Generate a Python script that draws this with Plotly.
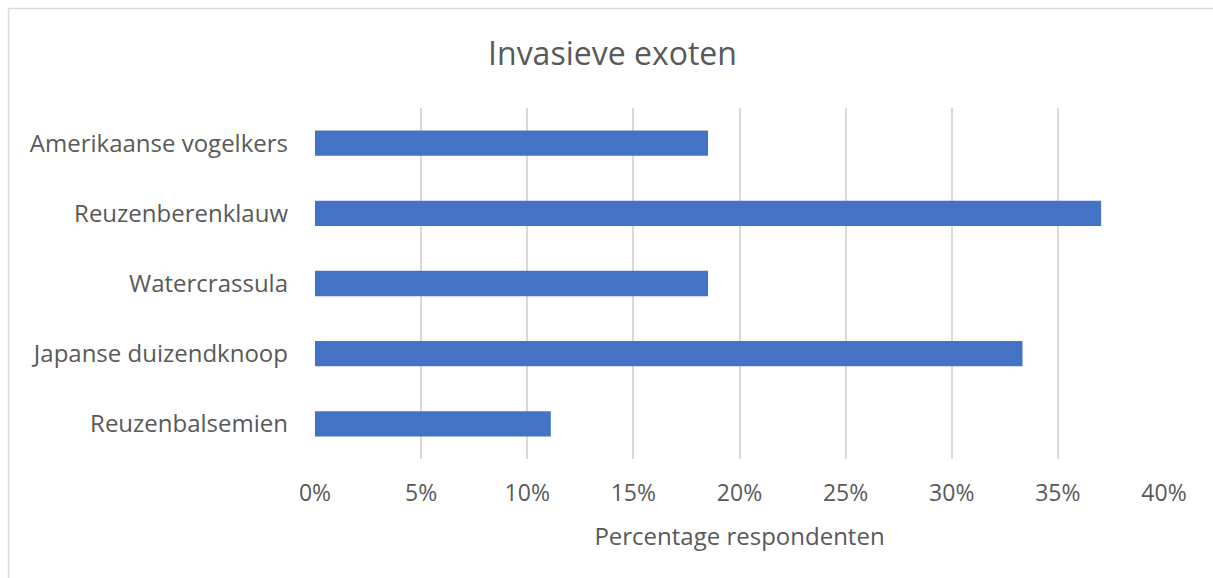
import plotly.graph_objects as go

categories = ["Reuzenbalsemien", "Japanse duizendknoop", "Watercrassula", "Reuzenberenklauw", "Amerikaanse vogelkers"]
values = [3/27, 9/27, 5/27, 10/27, 5/27]
tick_vals = [0, 0.05, 0.10, 0.15, 0.20, 0.25, 0.30, 0.35, 0.40]
tick_text = ["0%", "5%", "10%", "15%", "20%", "25%", "30%", "35%", "40%"]

FONT = "Open Sans"
TXT = "#595959"

fig = go.Figure(go.Bar(
    x=values, y=categories, orientation="h",
    marker=dict(color="#4472C4", line=dict(width=0)),
    width=0.36,
))

W, H = 1213, 578
L, R, T, B = 315, 49, 108, 119
pw = W - L - R
ph = H - T - B

fig.update_layout(
    width=W, height=H,
    margin=dict(l=L, r=R, t=T, b=B, pad=0),
    paper_bgcolor="white", plot_bgcolor="white",
    showlegend=False,
    title=dict(text="Invasieve exoten", x=(612.5) / W, xanchor="center",
               y=1 - 54 / H, yanchor="middle",
               font=dict(family=FONT, size=32, color=TXT)),
    font=dict(family=FONT, color=TXT),
    xaxis=dict(range=[0, 0.40], tickvals=tick_vals, ticktext=tick_text,
               showgrid=True, gridcolor="#d9d9d9", gridwidth=1.5,
               zeroline=False, showline=False, ticks="",
               tickfont=dict(family=FONT, size=23, color=TXT),
               ticklabelstandoff=18,
               title=dict(text="Percentage respondenten", standoff=21,
                          font=dict(family=FONT, size=24, color=TXT))),
    yaxis=dict(showgrid=False, zeroline=False, showline=False, ticks="",
               tickfont=dict(family=FONT, size=24, color=TXT),
               ticklabelstandoff=26, range=[-0.5, 4.5]),
    shapes=[
        dict(type="line", xref="paper", yref="paper",
             x0=(8.5 - L) / pw, x1=(W + 5 - L) / pw,
             y0=1 + (T - 8.5) / ph, y1=1 + (T - 8.5) / ph,
             line=dict(color="#d9d9d9", width=1.5)),
        dict(type="line", xref="paper", yref="paper",
             x0=(8.5 - L) / pw, x1=(8.5 - L) / pw,
             y0=1 + (T - 8.5) / ph, y1=-(B + 5) / ph,
             line=dict(color="#d9d9d9", width=1.5)),
    ],
)

fig.write_html("out.html")
